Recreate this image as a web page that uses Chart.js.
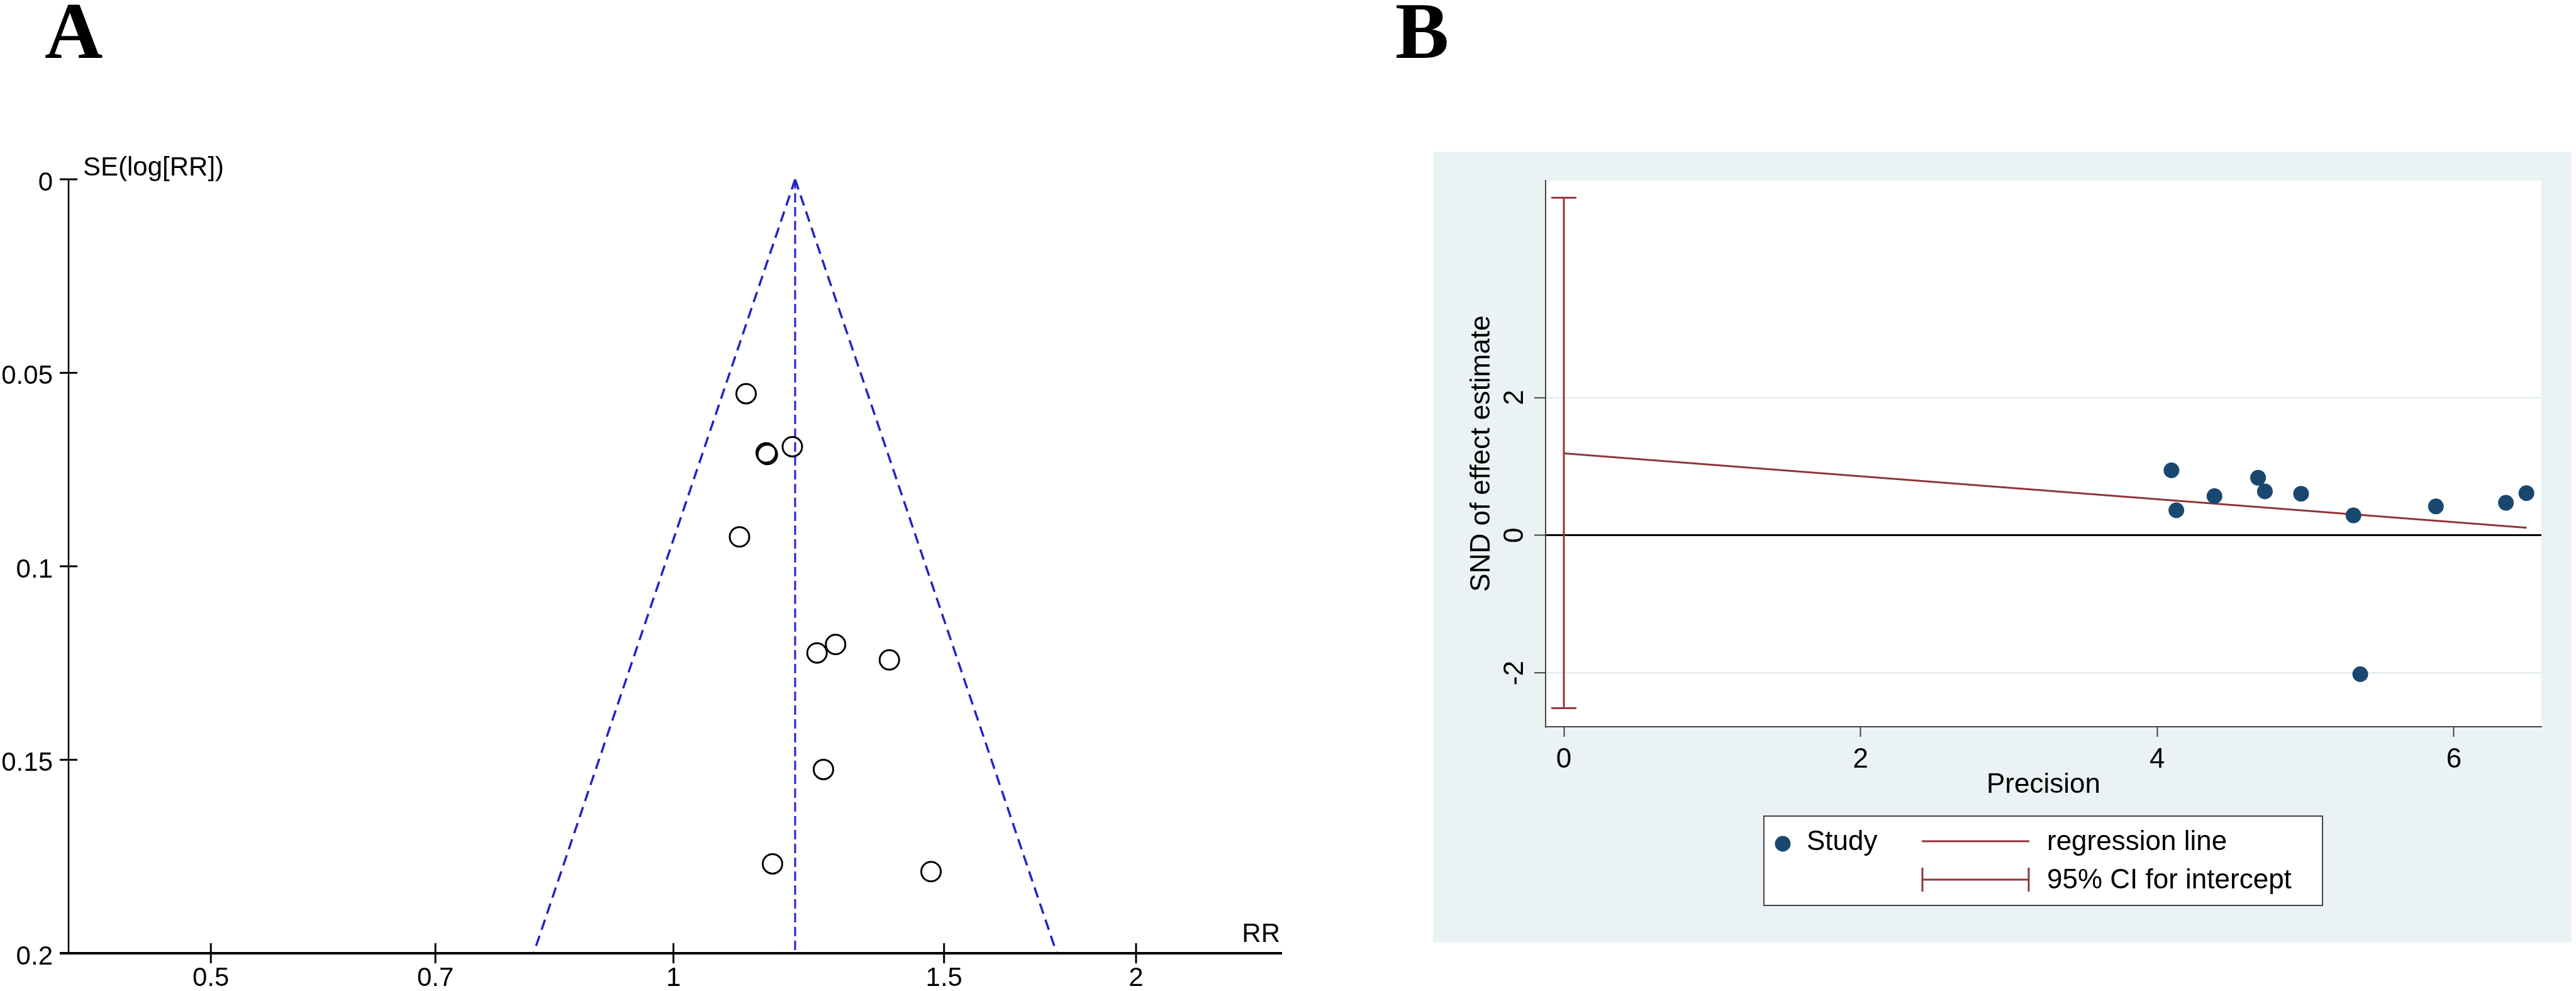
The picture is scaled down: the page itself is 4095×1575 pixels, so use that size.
<!DOCTYPE html>
<html>
<head>
<meta charset="utf-8">
<script src="https://cdn.jsdelivr.net/npm/chart.js@4.4.1/dist/chart.umd.min.js"></script>
<style>
  html, body { margin: 0; padding: 0; background: #fff; width: 4095px; height: 1575px; overflow: hidden; }
  #cA { position: absolute; left: 0; top: 0; }
  #cB { position: absolute; left: 2278px; top: 241px; background: #eaf2f3; }
</style>
</head>
<body>
<canvas id="cA" width="4095" height="1575"></canvas>
<canvas id="cB" width="1810" height="1257"></canvas>
<script>
// --- panel A: funnel plot ---
const seTicks = [0, 0.05, 0.1, 0.15, 0.2];
const seTickLabels = ['0', '0.05', '0.1', '0.15', '0.2'];
const rrTicks = [0.5, 0.7, 1, 1.5, 2];
const rrTickLabels = ['0.5', '0.7', '1', '1.5', '2'];
const studyRR = [1.115, 1.149, 1.151, 1.195, 1.104, 1.240, 1.275, 1.382, 1.252, 1.160, 1.471];
const studySE = [0.0554, 0.0707, 0.0711, 0.0691, 0.0924, 0.1224, 0.1202, 0.1242, 0.1525, 0.1769, 0.1789];
const pooledRR = [1.2, 1.2];
const funnelLeftRR = [1.2, 0.811];
const funnelRightRR = [1.2, 1.776];
const funnelSE = [0, 0.2];

// --- panel B: Egger regression ---
const precision = [4.096, 4.129, 4.386, 4.680, 4.726, 4.970, 5.323, 5.369, 5.879, 6.351, 6.489];
const snd = [0.943, 0.363, 0.568, 0.835, 0.637, 0.603, 0.289, -2.017, 0.419, 0.472, 0.612];
const regPrecision = [0, 6.49];
const regSnd = [1.19, 0.11];
const ciPrecision = [0, 0];
const ciSnd = [-2.51, 4.90];
const precTicks = [0, 2, 4, 6];
const sndTicks = [-2, 0, 2];

const SANS = '"Liberation Sans", Arial, sans-serif';
const SERIF = '"Liberation Serif", "Times New Roman", serif';
const NAVY = '#1a476f';
const MAROON = '#90353b';
const BLUE = '#2323c8';

const pts = (xs, ys) => xs.map((v, i) => ({ x: v, y: ys[i] }));

// axes with ticks crossing the line, titles and panel letters
const axesA = {
  id: 'axesA',
  afterDatasetsDraw(chart) {
    const { ctx, chartArea: a, scales: { x, y } } = chart;
    ctx.save();
    ctx.strokeStyle = '#000';
    const seg = (x1, y1, x2, y2) => { ctx.beginPath(); ctx.moveTo(x1, y1); ctx.lineTo(x2, y2); ctx.stroke(); };
    ctx.lineWidth = 2.5;
    seg(a.left, a.top, a.left, a.bottom);
    ctx.lineWidth = 4;
    seg(a.left - 14, a.bottom, a.right, a.bottom);
    ctx.lineWidth = 3;
    y.ticks.forEach(t => { const py = y.getPixelForValue(t.value); seg(a.left - 14, py, a.left + 14, py); });
    x.ticks.forEach(t => { const px = x.getPixelForValue(t.value); seg(px, a.bottom - 16, px, a.bottom + 16); });

    ctx.fillStyle = '#000';
    ctx.font = '42px ' + SANS;
    ctx.textBaseline = 'alphabetic';
    ctx.textAlign = 'left';
    ctx.fillText('SE(log[RR])', a.left + 23, a.top - 6);
    ctx.textAlign = 'right';
    ctx.fillText('RR', a.right - 3, a.bottom - 18);

    ctx.font = 'bold 128px ' + SERIF;
    ctx.textAlign = 'left';
    ctx.fillText('A', 71, 92);
    ctx.fillText('B', 2218, 92);
    ctx.restore();
  }
};

new Chart(document.getElementById('cA'), {
  type: 'scatter',
  data: {
    datasets: [
      { data: pts(studyRR, studySE), pointRadius: 15.5, pointHoverRadius: 15.5, pointBorderWidth: 3,
        borderColor: '#000', backgroundColor: 'rgba(0,0,0,0)' },
      { data: pts(pooledRR, funnelSE), showLine: true, borderColor: BLUE, borderWidth: 3,
        borderDash: [15, 7], pointRadius: 0 },
      { data: pts(funnelLeftRR, funnelSE), showLine: true, borderColor: BLUE, borderWidth: 3.5,
        borderDash: [17, 10], pointRadius: 0 },
      { data: pts(funnelRightRR, funnelSE), showLine: true, borderColor: BLUE, borderWidth: 3.5,
        borderDash: [17, 10], pointRadius: 0 }
    ]
  },
  options: {
    responsive: false, animation: false, devicePixelRatio: 1, events: [],
    layout: { padding: { left: 0, top: 285, right: 2057, bottom: 0 } },
    plugins: { legend: { display: false }, tooltip: { enabled: false } },
    scales: {
      x: {
        type: 'logarithmic', min: 0.404, max: 2.489,
        afterBuildTicks: s => { s.ticks = rrTicks.map(v => ({ value: v })); },
        afterFit: s => { s.height = 60; },
        grid: { display: false, drawTicks: false }, border: { display: false },
        ticks: { padding: 15, color: '#000', font: { size: 42, family: SANS }, autoSkip: false, maxRotation: 0,
          callback: v => rrTickLabels[rrTicks.indexOf(v)] ?? '' }
      },
      y: {
        type: 'linear', reverse: true, min: 0, max: 0.2,
        afterBuildTicks: s => { s.ticks = seTicks.map(v => ({ value: v })); },
        afterFit: s => { s.width = 109; },
        grid: { display: false, drawTicks: false }, border: { display: false },
        ticks: { padding: 25, labelOffset: 6, color: '#000', font: { size: 42, family: SANS }, autoSkip: false,
          callback: v => seTickLabels[seTicks.indexOf(v)] ?? '' }
      }
    }
  },
  plugins: [axesA]
});

// white plot region and the Stata style legend
const plotBg = {
  id: 'plotBg',
  beforeDraw(chart) {
    const { ctx, chartArea: a } = chart;
    ctx.save();
    ctx.fillStyle = '#fff';
    ctx.fillRect(a.left, a.top, a.right - a.left, a.bottom - a.top);
    ctx.restore();
  }
};

const legendB = {
  id: 'legendB',
  afterDraw(chart) {
    const { ctx } = chart;
    ctx.save();
    ctx.fillStyle = '#fff';
    ctx.fillRect(526, 1056, 888, 142);
    ctx.strokeStyle = '#444';
    ctx.lineWidth = 2;
    ctx.strokeRect(526, 1056, 888, 142);

    ctx.fillStyle = NAVY;
    ctx.beginPath(); ctx.arc(556, 1100, 12.5, 0, Math.PI * 2); ctx.fill();

    ctx.strokeStyle = MAROON;
    ctx.lineWidth = 3;
    ctx.beginPath(); ctx.moveTo(777, 1096); ctx.lineTo(948, 1096); ctx.stroke();
    ctx.beginPath(); ctx.moveTo(777, 1157); ctx.lineTo(948, 1157); ctx.stroke();
    ctx.beginPath(); ctx.moveTo(778, 1138); ctx.lineTo(778, 1176); ctx.stroke();
    ctx.beginPath(); ctx.moveTo(947, 1138); ctx.lineTo(947, 1176); ctx.stroke();

    ctx.fillStyle = '#000';
    ctx.font = '44px ' + SANS;
    ctx.textBaseline = 'middle';
    ctx.textAlign = 'left';
    ctx.fillText('Study', 594, 1098);
    ctx.fillText('regression line', 976, 1098);
    ctx.fillText('95% CI for intercept', 976, 1159);
    ctx.restore();
  }
};

new Chart(document.getElementById('cB'), {
  type: 'scatter',
  data: {
    datasets: [
      { label: 'Study', data: pts(precision, snd), pointRadius: 12.5, pointHoverRadius: 12.5,
        backgroundColor: NAVY, borderColor: NAVY, pointBorderWidth: 0 },
      { label: 'regression line', data: pts(regPrecision, regSnd), showLine: true,
        borderColor: MAROON, borderWidth: 3, pointRadius: 0 },
      { label: '95% CI for intercept', data: pts(ciPrecision, ciSnd), showLine: true,
        borderColor: MAROON, borderWidth: 3, pointStyle: 'line', pointRadius: 20, pointBorderWidth: 3,
        pointBorderColor: MAROON }
    ]
  },
  options: {
    responsive: false, animation: false, devicePixelRatio: 1, events: [],
    layout: { padding: { left: 0, top: 46, right: 48, bottom: 0 } },
    plugins: { legend: { display: false }, tooltip: { enabled: false } },
    scales: {
      x: {
        type: 'linear', min: -0.123, max: 6.59,
        afterBuildTicks: s => { s.ticks = precTicks.map(v => ({ value: v })); },
        afterFit: s => { s.height = 343; },
        grid: { drawOnChartArea: false, tickLength: 16, tickColor: '#444', tickWidth: 2 },
        border: { color: '#444', width: 2 },
        ticks: { padding: 10, color: '#000', font: { size: 44, family: SANS }, maxRotation: 0, autoSkip: false },
        title: { display: true, text: 'Precision', color: '#000', font: { size: 44, family: SANS },
          padding: { top: 0, bottom: 224 } }
      },
      y: {
        type: 'linear', min: -2.78, max: 5.15,
        afterBuildTicks: s => { s.ticks = sndTicks.map(v => ({ value: v })); },
        afterFit: s => { s.width = 179; },
        grid: {
          color: c => (c.tick && c.tick.value === 0) ? '#000' : '#e4edef',
          lineWidth: c => (c.tick && c.tick.value === 0) ? 3 : 2.5,
          tickLength: 18, tickColor: '#444', tickWidth: 2
        },
        border: { color: '#444', width: 2 },
        ticks: { padding: 11, color: '#000', font: { size: 44, family: SANS }, minRotation: 90, maxRotation: 90,
          crossAlign: 'center', autoSkip: false },
        title: { display: true, text: 'SND of effect estimate', color: '#000', font: { size: 44, family: SANS },
          padding: { top: 51, bottom: 0 } }
      }
    }
  },
  plugins: [plotBg, legendB]
});
</script>
</body>
</html>
